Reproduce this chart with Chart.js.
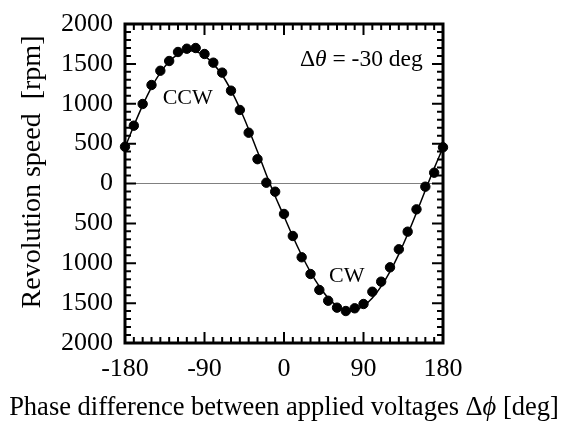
<!DOCTYPE html>
<html>
<head>
<meta charset="utf-8">
<script src="https://cdn.jsdelivr.net/npm/chart.js@4.4.1/dist/chart.umd.min.js"></script>
<style>
  html, body { margin: 0; padding: 0; background: #fff; }
  #wrap { width: 568px; height: 423px; }
</style>
</head>
<body>
<div id="wrap"><canvas id="c"></canvas></div>
<script>
// Vitesse de rotation mesurée en fonction du déphasage (pas de 10 deg)
const phaseDeg = [-180, -170, -160, -150, -140, -130, -120, -110, -100, -90, -80, -70, -60, -50, -40, -30, -20, -10,
  0, 10, 20, 30, 40, 50, 60, 70, 80, 90, 100, 110, 120, 130, 140, 150, 160, 170, 180];
const speedRpm = [461, 725, 997, 1235, 1414, 1536, 1649, 1690, 1699, 1624, 1515, 1390, 1164, 922, 637, 305, 10, -103,
  -382, -658, -925, -1135, -1335, -1470, -1557, -1599, -1565, -1511, -1357, -1231, -1051, -825, -604, -324, -40, 135, 454];

// Courbe continue
const fitRpm = [450, 725, 980, 1205, 1390, 1530, 1620, 1660, 1655, 1600, 1500, 1360, 1170, 940, 680, 400, 110, -160,
  -410, -665, -900, -1110, -1290, -1435, -1535, -1590, -1590, -1535, -1435, -1290, -1105, -885, -635, -365, -85, 190, 450];

const xTicks = [-180, -90, 0, 90, 180];
const yTicks = [-2000, -1500, -1000, -500, 0, 500, 1000, 1500, 2000];
const xMinorStep = 10;
const yMinorStep = 100;

const SERIF = "'Liberation Serif', 'Times New Roman', serif";

// Dessine un texte composé de morceaux (certains en italique)
function drawParts(ctx, parts, x, y, align) {
  let w = 0;
  parts.forEach(p => { ctx.font = p.f; p.w = ctx.measureText(p.t).width; w += p.w; });
  let px = align === 'right' ? x - w : align === 'center' ? x - w / 2 : x;
  ctx.textAlign = 'left';
  parts.forEach(p => { ctx.font = p.f; ctx.fillText(p.t, px, y); px += p.w; });
}

// Cadre + graduations vers l'intérieur sur les 4 côtés
const framePlugin = {
  id: 'frame',
  afterDatasetsDraw(chart) {
    const { ctx, chartArea: a, scales: { x, y } } = chart;
    ctx.save();
    ctx.strokeStyle = '#000';
    ctx.lineWidth = 2;
    for (let v = x.min; v <= x.max; v += xMinorStep) {
      const px = x.getPixelForValue(v);
      const len = xTicks.includes(v) ? 11 : 6;
      ctx.beginPath();
      ctx.moveTo(px, a.bottom); ctx.lineTo(px, a.bottom - len);
      ctx.moveTo(px, a.top); ctx.lineTo(px, a.top + len);
      ctx.stroke();
    }
    for (let v = y.min; v <= y.max; v += yMinorStep) {
      const py = y.getPixelForValue(v);
      const len = yTicks.includes(v) ? 11 : 6;
      ctx.beginPath();
      ctx.moveTo(a.left, py); ctx.lineTo(a.left + len, py);
      ctx.moveTo(a.right, py); ctx.lineTo(a.right - len, py);
      ctx.stroke();
    }
    ctx.lineWidth = 3;
    ctx.strokeRect(a.left, a.top, a.right - a.left, a.bottom - a.top);
    ctx.restore();
  }
};

// Annotations (CCW, CW, Δθ) et titres d'axes
const notes = [
  { text: 'CCW', x: -109, y: 1072 },
  { text: 'CW', x: 71, y: -1160 }
];
const thetaNote = { x: 157, y: 1549 };

const notesPlugin = {
  id: 'notes',
  afterDraw(chart) {
    const { ctx, chartArea: a, scales: { x, y } } = chart;
    ctx.save();
    ctx.fillStyle = '#000';
    ctx.textBaseline = 'middle';
    ctx.font = `22px ${SERIF}`;
    ctx.textAlign = 'center';
    notes.forEach(n => ctx.fillText(n.text, x.getPixelForValue(n.x), y.getPixelForValue(n.y)));

    drawParts(ctx, [
      { t: 'Δ', f: `23.5px ${SERIF}` },
      { t: 'θ', f: `italic 23.5px ${SERIF}` },
      { t: ' = -30 deg', f: `23.5px ${SERIF}` }
    ], x.getPixelForValue(thetaNote.x), y.getPixelForValue(thetaNote.y), 'right');

    // titre axe X
    drawParts(ctx, [
      { t: 'Phase difference between applied voltages Δ', f: `26.5px ${SERIF}` },
      { t: 'ϕ', f: `italic 26.5px ${SERIF}` },
      { t: ' [deg]', f: `26.5px ${SERIF}` }
    ], (a.left + a.right) / 2, 408, 'center');

    // titre axe Y
    ctx.translate(33, 172);
    ctx.rotate(-Math.PI / 2);
    ctx.font = `28px ${SERIF}`;
    ctx.textAlign = 'center';
    ctx.fillText('Revolution speed  [rpm]', 0, 0);
    ctx.restore();
  }
};

new Chart(document.getElementById('c'), {
  type: 'scatter',
  data: {
    datasets: [
      {
        label: 'Ajustement',
        type: 'line',
        data: phaseDeg.map((p, i) => ({ x: p, y: fitRpm[i] })),
        borderColor: '#000',
        borderWidth: 1.5,
        pointRadius: 0,
        tension: 0.4,
        fill: false,
        clip: false,
        order: 2
      },
      {
        label: 'Mesures',
        data: phaseDeg.map((p, i) => ({ x: p, y: speedRpm[i] })),
        backgroundColor: '#000',
        borderColor: '#000',
        pointRadius: 4.7,
        clip: false,
        order: 1
      }
    ]
  },
  options: {
    responsive: true, maintainAspectRatio: false,
    animation: false,
    layout: { padding: { top: 24, right: 125, left: 0, bottom: 0 } },
    plugins: { legend: { display: false }, tooltip: { enabled: false } },
    scales: {
      x: {
        type: 'linear', min: -180, max: 180,
        afterBuildTicks: s => { s.ticks = xTicks.map(v => ({ value: v })); },
        afterFit: s => { s.height = 80; s.paddingLeft = 0; s.paddingRight = 0; },
        grid: { display: false },
        border: { display: false },
        ticks: {
          color: '#000', padding: 3,
          font: { family: SERIF, size: 26 },
          maxRotation: 0,
          callback: v => String(v)
        }
      },
      y: {
        type: 'linear', min: -2000, max: 2000,
        afterBuildTicks: s => { s.ticks = yTicks.map(v => ({ value: v })); },
        afterFit: s => { s.width = 125; s.paddingTop = 0; s.paddingBottom = 0; },
        grid: {
          drawTicks: false,
          color: c => (c.tick && c.tick.value === 0 ? '#808080' : 'rgba(0,0,0,0)'),
          lineWidth: 1
        },
        border: { display: false },
        ticks: {
          color: '#000', padding: 12,
          font: { family: SERIF, size: 26 },
          callback: v => String(Math.abs(v))
        }
      }
    }
  },
  plugins: [framePlugin, notesPlugin]
});
</script>
</body>
</html>
